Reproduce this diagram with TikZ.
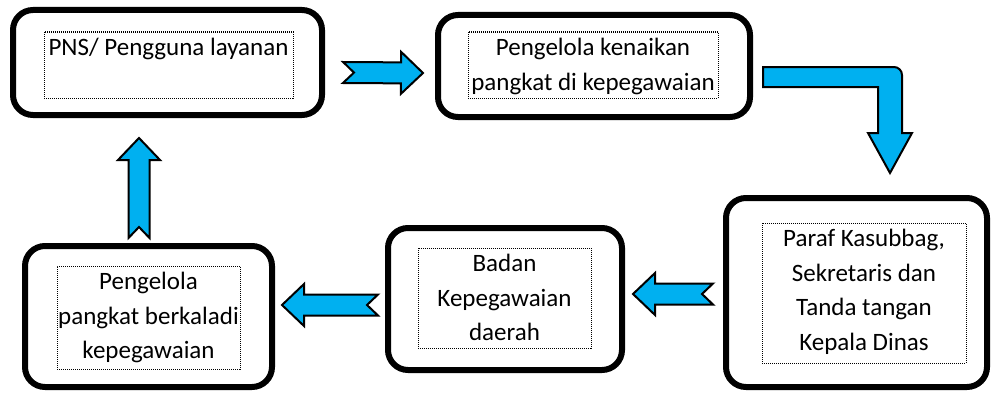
\documentclass[tikz,border=0pt]{standalone}
\usepackage{fontspec}
\setmainfont{Carlito}
\usepackage{xcolor}
\usepackage{tikz}
\usetikzlibrary{calc}

\definecolor{arrowblue}{RGB}{0,176,240}
\newcommand{\ashaft}{10.5pt}
\newcommand{\anotch}{11pt}
\newcommand{\ahead}{22pt}
\newcommand{\ahalf}{21pt}
\newcommand{\boxtext}[3]{\parbox[b][#2][t]{#1}{\centering\rule{0pt}{23.5pt}#3\par}}

\tikzset{
  roundbox/.style={draw, line width=6pt, rounded corners=20pt, inner sep=0pt, outer sep=0pt},
  dotbox/.style={draw, line width=1pt, dash pattern=on 1pt off 1pt, inner sep=0pt},
  arrowfill/.style={draw=black, fill=arrowblue, line width=2pt, line join=miter},
  blockarrow/.style={arrowfill, to path={
      ($(\tikztostart)!\ashaft!90:(\tikztotarget)$)
      -- ($(\tikztostart)!\anotch!(\tikztotarget)$)
      -- ($(\tikztostart)!\ashaft!-90:(\tikztotarget)$)
      -- ($($(\tikztotarget)!\ahead!(\tikztostart)$)!\ashaft!-90:(\tikztotarget)$)
      -- ($($(\tikztotarget)!\ahead!(\tikztostart)$)!\ahalf!-90:(\tikztotarget)$)
      -- (\tikztotarget)
      -- ($($(\tikztotarget)!\ahead!(\tikztostart)$)!\ahalf!90:(\tikztotarget)$)
      -- ($($(\tikztotarget)!\ahead!(\tikztostart)$)!\ashaft!90:(\tikztotarget)$)
      -- cycle}},
  bentarrow/.style={arrowfill, to path={
      let \p1=(\tikztostart), \p2=(\tikztotarget) in
      (\x1,{\y1+10pt}) -- ({\x2+4pt},{\y1+10pt}) arc[start angle=90, end angle=0, radius=8pt]
      -- ({\x2+12pt},{\y2+40pt}) -- ({\x2+22pt},{\y2+40pt}) -- (\x2,\y2)
      -- ({\x2-22pt},{\y2+40pt}) -- ({\x2-12pt},{\y2+40pt}) -- ({\x2-12pt},{\y1-10pt})
      -- (\x1,{\y1-10pt}) -- cycle}}
}

\begin{document}
\begin{tikzpicture}[x=1pt, y=1pt, font=\fontsize{25}{34.5}\selectfont]
  \useasboundingbox (0,0) rectangle (992,392);
  % boxes
  \node[roundbox, minimum width=309pt, minimum height=105pt] (pns) at (167.5,329.5) {};
  \node[roundbox, minimum width=312pt, minimum height=102pt] (kenaikan) at (594,326) {};
  \node[roundbox, minimum width=261pt, minimum height=189pt] (paraf) at (856.5,99.5) {};
  \node[roundbox, minimum width=234pt, minimum height=142pt] (badan) at (505,93) {};
  \node[roundbox, minimum width=247pt, minimum height=141pt] (berkala) at (148.5,75.5) {};
  % texts
  \node[dotbox] (pnstxt) at (168.5,327) {\boxtext{249pt}{66pt}{PNS/ Pengguna layanan}};
  \node[dotbox] (kenaikantxt) at (593,327) {\boxtext{250pt}{66pt}{Pengelola kenaikan\\pangkat di kepegawaian}};
  \node[dotbox] (paraftxt) at (864,99) {\boxtext{204pt}{140pt}{Paraf Kasubbag,\\Sekretaris dan\\Tanda tangan\\Kepala Dinas}};
  \node[dotbox] (badantxt) at (504.5,94) {\boxtext{173pt}{100pt}{Badan\\Kepegawaian\\daerah}};
  \node[dotbox] (berkalatxt) at (148.5,74.5) {\boxtext{183pt}{103pt}{Pengelola\\pangkat berkaladi\\kepegawaian}};
  % arrows
  \draw[blockarrow] ($(pns.east)+(21,-10)$) to ($(kenaikan.west)+(-15,-7)$);
  \draw[bentarrow] ($(kenaikan.east)+(13,-11)$) to ($(paraf.north)+(33.5,25)$);
  \draw[blockarrow] ($(paraf.west)+(-13,-1.5)$) to ($(badan.east)+(11,5)$);
  \draw[blockarrow] ($(badan.west)+(-10,-6)$) to ($(berkala.east)+(10,11.5)$);
  \draw[blockarrow] ($(berkala.north)+(-9.5,8)$) to ($(pns.south)+(-28.5,-23)$);
\end{tikzpicture}
\end{document}
